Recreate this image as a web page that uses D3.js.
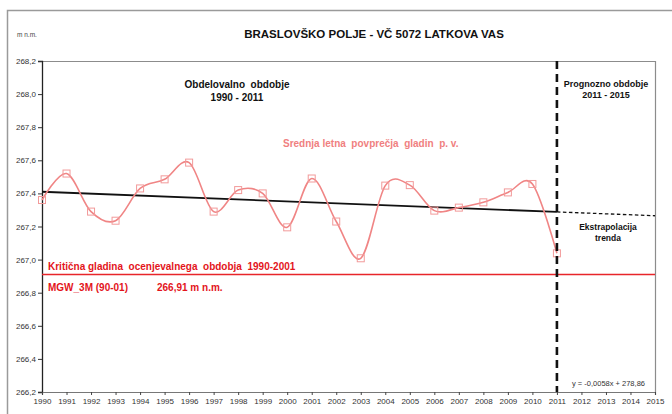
<!DOCTYPE html>
<html><head><meta charset="utf-8">
<script src="https://cdn.jsdelivr.net/npm/d3@7"></script>
<style>body{margin:0;background:#fff}svg{display:block;font-family:"Liberation Sans",Arial,sans-serif}text{white-space:pre}</style>
</head><body><svg id="c" width="672" height="414"></svg>
<script>
const years = [1990,1991,1992,1993,1994,1995,1996,1997,1998,1999,2000,2001,2002,2003,2004,2005,2006,2007,2008,2009,2010,2011];
const levels = [267.36,267.52,267.29,267.235,267.43,267.485,267.586,267.29,267.42,267.40,267.195,267.49,267.23,267.008,267.447,267.45,267.296,267.314,267.346,267.406,267.457,267.038];
const yTicks = [266.2,266.4,266.6,266.8,267.0,267.2,267.4,267.6,267.8,268.0,268.2];
const xTicks = d3.range(1990,2016);
const trendStartYear = 1990, trendStartValue = 267.41, trendSlope = -0.0058;
const observedEnd = 2011, forecastEnd = 2015;
const criticalLevel = 266.91;

const svg = d3.select("#c");
const L=42, R=655, T=61, B=392;
const x = d3.scaleLinear().domain([1990,2015]).range([L,R]);
const y = d3.scaleLinear().domain([266.2,268.2]).range([B,T]);
const fmt = v => d3.format(".1f")(v).replace(".",",");

// outer frame
svg.append("rect").attr("x",7.5).attr("y",10.5).attr("width",700).attr("height",420)
  .attr("fill","none").attr("stroke","#9a9a9a").attr("stroke-width",1.5);

// plot frame
svg.append("path").attr("d",`M${L},${T+0.5}H${R+0.5}V${B}`).attr("fill","none").attr("stroke","#8c8c8c").attr("stroke-width",1.2);

// axes
const ya = svg.append("g").attr("transform",`translate(${L},0)`)
  .call(d3.axisLeft(y).tickValues(yTicks).tickFormat(fmt).tickSize(4).tickPadding(2));
ya.select(".domain").attr("stroke","#222").attr("stroke-width",1.3);
ya.selectAll(".tick line").attr("stroke","#333");
ya.selectAll("text").attr("font-size","8px").attr("fill","#333");

const xa = svg.append("g").attr("transform",`translate(0,${B})`)
  .call(d3.axisBottom(x).tickValues(xTicks).tickFormat(d=>d).tickSize(3).tickPadding(3));
xa.select(".domain").attr("stroke","#777").attr("stroke-width",1.2);
xa.selectAll(".tick line").attr("stroke","#444");
xa.selectAll("text").attr("font-size","8px").attr("fill","#333");

// critical line
svg.append("line").attr("x1",L).attr("x2",R).attr("y1",y(criticalLevel)).attr("y2",y(criticalLevel))
  .attr("stroke","#e8252a").attr("stroke-width",1.5);

// trend
const trendAt = yr => trendStartValue + trendSlope*(yr-trendStartYear);
svg.append("line").attr("x1",x(trendStartYear)).attr("x2",x(observedEnd))
  .attr("y1",y(trendAt(trendStartYear))).attr("y2",y(trendAt(observedEnd)))
  .attr("stroke","#111").attr("stroke-width",1.8);
svg.append("line").attr("x1",x(observedEnd)).attr("x2",x(forecastEnd))
  .attr("y1",y(trendAt(observedEnd))).attr("y2",y(trendAt(forecastEnd)))
  .attr("stroke","#111").attr("stroke-width",1.3).attr("stroke-dasharray","3.5,2.5");

// data curve
const pts = years.map((yr,i)=>[yr,levels[i]]);
svg.append("path").datum(pts)
  .attr("d",d3.line().x(d=>x(d[0])).y(d=>y(d[1])).curve(d3.curveCardinal.tension(0)))
  .attr("fill","none").attr("stroke","#f08585").attr("stroke-width",1.6);
svg.selectAll("rect.m").data(pts).join("rect").attr("class","m")
  .attr("x",d=>x(d[0])-3.5).attr("y",d=>y(d[1])-3.5).attr("width",7).attr("height",7)
  .attr("fill","none").attr("stroke","#f29a9a").attr("stroke-width",1);

// vertical dashed divider
svg.append("line").attr("x1",x(observedEnd)).attr("x2",x(observedEnd)).attr("y1",T).attr("y2",B)
  .attr("stroke","#111").attr("stroke-width",2.6).attr("stroke-dasharray","8,5");

// texts
function txt(xp,yp,s,opt={}){
  return svg.append("text").attr("x",xp).attr("y",yp).text(s)
    .attr("font-size",opt.size||"9px").attr("font-weight",opt.bold?"bold":"normal")
    .attr("fill",opt.fill||"#111").attr("text-anchor",opt.anchor||"start");
}
txt(374,38,"BRASLOVŠKO POLJE - VČ 5072 LATKOVA VAS",{size:"11.5px",bold:true,anchor:"middle"});
txt(17,37,"m n.m.",{size:"6.5px",fill:"#444"});
txt(237,88,"Obdelovalno  obdobje",{size:"10px",bold:true,anchor:"middle"});
txt(237,101,"1990 - 2011",{size:"10px",bold:true,anchor:"middle"});
txt(606,87,"Prognozno obdobje",{size:"9px",bold:true,anchor:"middle"});
txt(606,98,"2011 - 2015",{size:"9px",bold:true,anchor:"middle"});
txt(283,147,"Srednja letna  povprečja  gladin  p. v.",{size:"10px",bold:true,fill:"#f08080"});
txt(608,230,"Ekstrapolacija",{size:"8.5px",bold:true,anchor:"middle"});
txt(608,241,"trenda",{size:"8.5px",bold:true,anchor:"middle"});
txt(48,270,"Kritična gladina  ocenjevalnega  obdobja  1990-2001",{size:"10px",bold:true,fill:"#e3141b"});
txt(48,291,"MGW_3M (90-01)",{size:"10px",bold:true,fill:"#e3141b"});
txt(157,291,"266,91 m n.m.",{size:"10px",bold:true,fill:"#e3141b"});
txt(572,386,"y = -0,0058x + 278,86",{size:"7.5px",fill:"#333"});
</script></body></html>
